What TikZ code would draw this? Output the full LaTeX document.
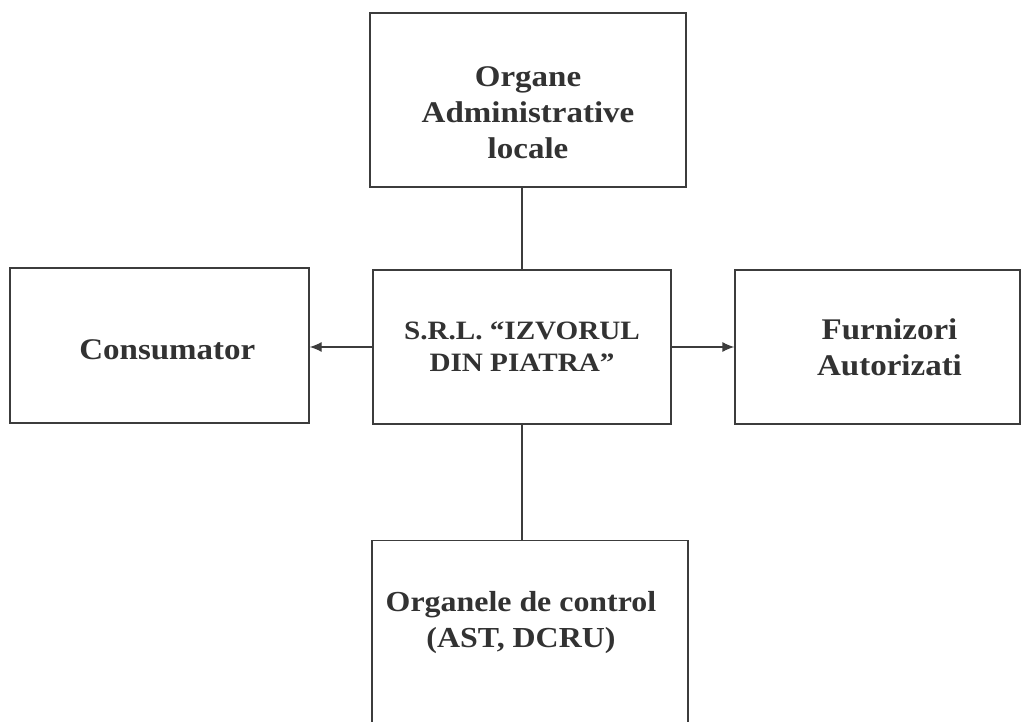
\documentclass[tikz,border=0pt]{standalone}
\usepackage{fontspec}
\setmainfont{Liberation Serif}[FakeStretch=1.1]
\usepackage{xcolor}
\definecolor{orgLine}{RGB}{60, 60, 60}
\definecolor{orgInk}{RGB}{50, 50, 50}
\usepackage{tikz}
\usetikzlibrary{
    arrows.meta,
    positioning
}

\begin{document}
\begin{tikzpicture}[
    x=1pt, y=-1pt,
    orgBox/.style={
        rectangle, draw=orgLine, line width=1.3pt,
        fill=white, text=orgInk,
        align=center, inner sep=0pt,
        font=\fontsize{30}{36}\selectfont\bfseries
    },
    orgLabel/.style={
        text=orgInk, align=center, inner sep=0pt,
        font=\fontsize{29}{36}\selectfont\bfseries
    },
    orgArrow/.style={
        -{Latex[length=12pt, width=10pt]}, line width=1.3pt, draw=orgLine
    },
    orgLink/.style={
        line width=1.3pt, draw=orgLine
    }
]

    \useasboundingbox (0,0) rectangle (1023,722);
    \clip (0,0) rectangle (1023,722);

    % Top: local administration
    \node[orgBox, minimum width=316pt, minimum height=174pt] (admin) at (528, 100) {
        \rule{0pt}{46pt}Organe\\
        Administrative\\
        locale
    };

    % Centre: the company
    \node[orgBox, minimum width=298pt, minimum height=154pt,
          font=\fontsize{26.5}{32}\selectfont\bfseries] (firma) at (522, 347) {
        S.R.L. “IZVORUL\\
        DIN PIATRA”
    };

    % Left: consumers
    \node[orgBox, minimum width=299pt, minimum height=155pt] (consum) at (159.5, 345.5) {
        \hspace*{24pt}\rule{0pt}{28pt}Consumator
    };

    % Right: suppliers
    \node[orgBox, minimum width=285pt, minimum height=154pt] (furniz) at (877.5, 347) {
        \hspace*{24pt}Furnizori\\
        \hspace*{24pt}Autorizati
    };

    % Bottom: control bodies (box runs past the page edge)
    \node[orgBox, minimum width=316pt, minimum height=240pt, anchor=north] (control) at (530, 540) {};
    \node[orgLabel] (controlText) at (521, 623) {
        Organele de control\\
        (AST, DCRU)
    };

    % Connectors
    \draw[orgLink] (admin.south -| firma.north) -- (firma.north);
    \draw[orgLink] (firma.south) -- (firma.south |- control.north);
    \draw[orgArrow] (firma.west) -- (firma.west -| consum.east);
    \draw[orgArrow] (firma.east) -- (firma.east -| furniz.west);

\end{tikzpicture}
\end{document}
